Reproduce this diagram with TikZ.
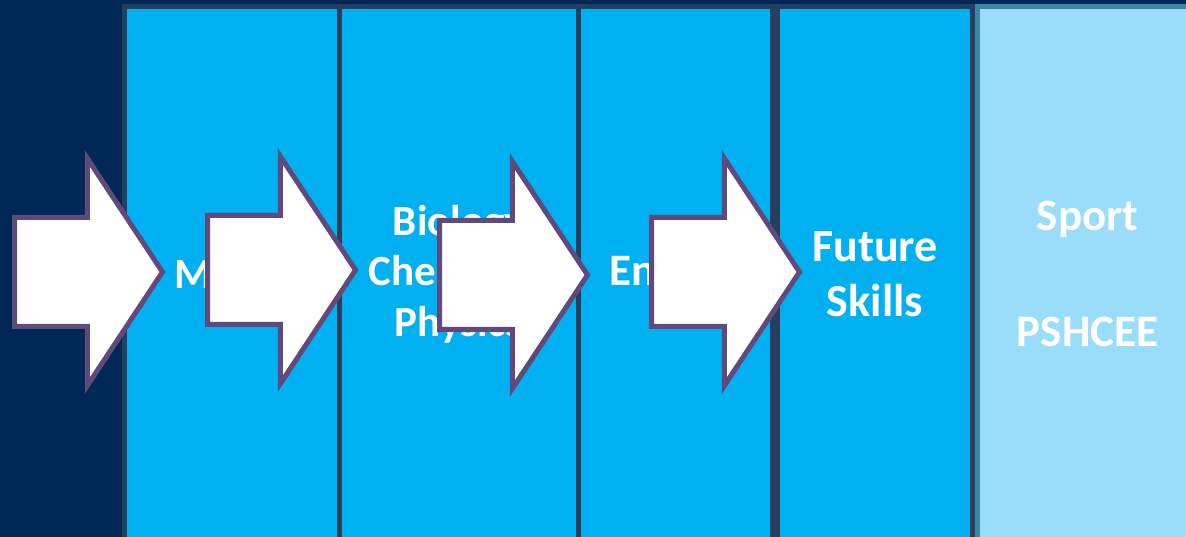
\documentclass[tikz,border=0pt]{standalone}
\usepackage{fontspec}
\setmainfont{Carlito}
\usetikzlibrary{shapes.arrows}
\definecolor{cnavy}{HTML}{002856}
\definecolor{cblue}{HTML}{00B0F0}
\definecolor{cbluelight}{HTML}{99DDFB}
\definecolor{cedge}{HTML}{283E5F}
\definecolor{cteal}{HTML}{3A87A0}
\definecolor{cpurple}{HTML}{604A7B}
\begin{document}
\begin{tikzpicture}[
    x=1pt, y=-1pt,
    colbox/.style={draw=cedge, fill=cblue, line width=5pt, anchor=north west,
                   minimum height=535pt, inner sep=0pt, outer sep=0pt, align=center,
                   text=white, font=\fontsize{43}{50.5}\selectfont\bfseries},
    lightbox/.style={colbox, draw=cteal, fill=cbluelight},
    arrowbox/.style={single arrow, draw=cpurple, fill=white, line width=5pt,
                     minimum height=148pt, inner xsep=0pt, inner ysep=52pt, outer sep=0pt,
                     single arrow head extend=59pt, single arrow tip angle=113,
                     anchor=west},
]

% Background
\useasboundingbox (0,0) rectangle (1186,537);
\fill[cnavy] (0,0) rectangle (1186,537);

% Subject columns
\node[colbox, minimum width=215.5pt] (maths) at (124,6.5) {Maths};
\node[colbox, minimum width=239pt]   (science) at (339.5,6.5) {Biology\\Chemistry\\Physics};
\node[colbox, minimum width=193.5pt, font=\fontsize{45}{54}\selectfont\bfseries]
      (english) at (578.5,6.5) {English};
\node[colbox, minimum width=195pt, font=\fontsize{46}{55}\selectfont\bfseries]
      (future) at (777.5,6.5) {Future\\Skills};
\node[lightbox, minimum width=220pt, font=\fontsize{45}{58}\selectfont\bfseries]
      (sport) at (977.5,6.5) {Sport\\\mbox{}\\PSHCEE};

% Arrows over the columns
\node[arrowbox] (arrow1) at (14.5,272) {};
\node[arrowbox] (arrow2) at (207.5,270) {};
\node[arrowbox] (arrow3) at (439.5,275) {};
\node[arrowbox] (arrow4) at (651.5,272) {};

\end{tikzpicture}
\end{document}
